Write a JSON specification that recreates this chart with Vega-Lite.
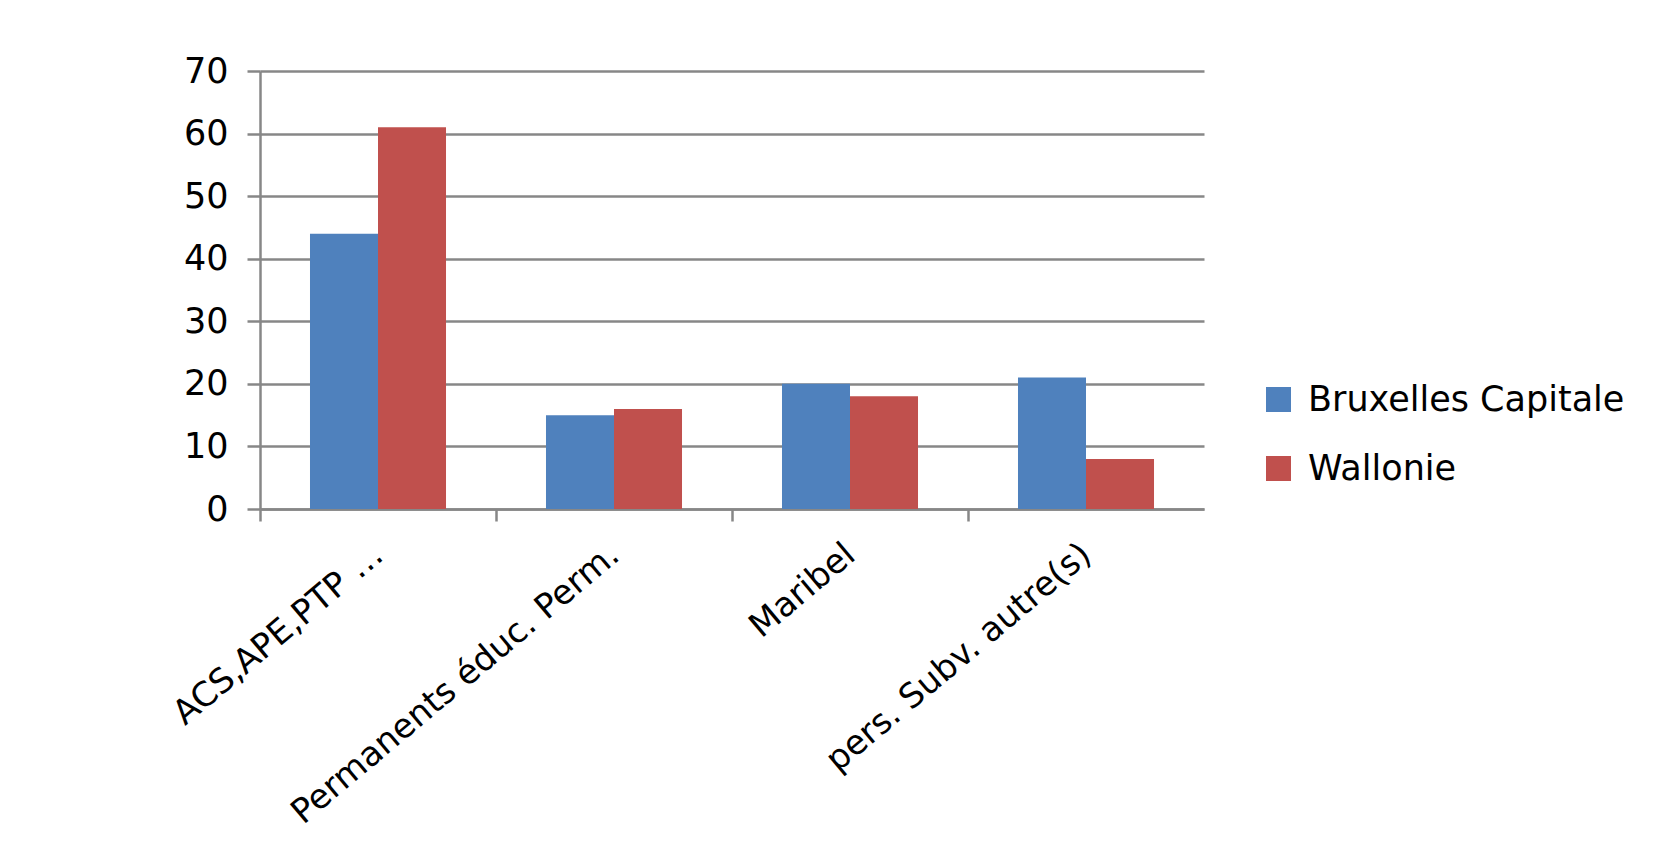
{
  "$schema": "https://vega.github.io/schema/vega-lite/v6.json",
  "autosize": {"type": "none"},
  "width": 944,
  "height": 438,
  "padding": {"left": 260, "top": 71, "right": 457, "bottom": 338},
  "background": "white",
  "data": {
    "values": [
      {"cat": "ACS,APE,PTP …", "region": "Bruxelles Capitale", "value": 44},
      {"cat": "ACS,APE,PTP …", "region": "Wallonie", "value": 61},
      {"cat": "Permanents éduc. Perm.", "region": "Bruxelles Capitale", "value": 15},
      {"cat": "Permanents éduc. Perm.", "region": "Wallonie", "value": 16},
      {"cat": "Maribel", "region": "Bruxelles Capitale", "value": 20},
      {"cat": "Maribel", "region": "Wallonie", "value": 18},
      {"cat": "pers. Subv. autre(s)", "region": "Bruxelles Capitale", "value": 21},
      {"cat": "pers. Subv. autre(s)", "region": "Wallonie", "value": 8}
    ]
  },
  "mark": {"type": "bar"},
  "encoding": {
    "x": {
      "field": "cat",
      "type": "nominal",
      "sort": null,
      "title": null,
      "scale": {"paddingInner": 0, "paddingOuter": 0},
      "axis": {
        "labelAngle": -40,
        "bandPosition": 0,
        "tickSize": 12,
        "tickWidth": 2.5,
        "tickColor": "#878787",
        "domainColor": "#878787",
        "domainWidth": 2.5,
        "labelFontSize": 34,
        "labelFont": "DejaVu Sans",
        "labelColor": "black",
        "labelPadding": 16,
        "labelOffset": -10,
        "labelLimit": 0,
        "labelOverlap": false,
        "grid": false
      }
    },
    "xOffset": {
      "field": "region",
      "type": "nominal",
      "scale": {"paddingInner": 0, "paddingOuter": 0.735}
    },
    "y": {
      "field": "value",
      "type": "quantitative",
      "title": null,
      "scale": {"domain": [0, 70], "nice": false},
      "axis": {
        "values": [0, 10, 20, 30, 40, 50, 60, 70],
        "tickSize": 13,
        "tickWidth": 2.5,
        "tickColor": "#878787",
        "domainColor": "#878787",
        "domainWidth": 2.5,
        "gridColor": "#878787",
        "gridWidth": 2.5,
        "labelFontSize": 35,
        "labelFont": "DejaVu Sans",
        "labelColor": "black",
        "labelPadding": 19
      }
    },
    "color": {
      "field": "region",
      "type": "nominal",
      "title": null,
      "scale": {"domain": ["Bruxelles Capitale", "Wallonie"], "range": ["#4F81BD", "#C0504D"]},
      "legend": {
        "orient": "none",
        "legendX": 1001,
        "legendY": 311,
        "symbolType": "square",
        "symbolSize": 625,
        "symbolStrokeWidth": 0,
        "labelFontSize": 35,
        "labelFont": "DejaVu Sans",
        "labelColor": "black",
        "labelOffset": 12,
        "labelLimit": 0,
        "rowPadding": 33
      }
    }
  },
  "config": {
    "view": {"stroke": null}
  }
}
